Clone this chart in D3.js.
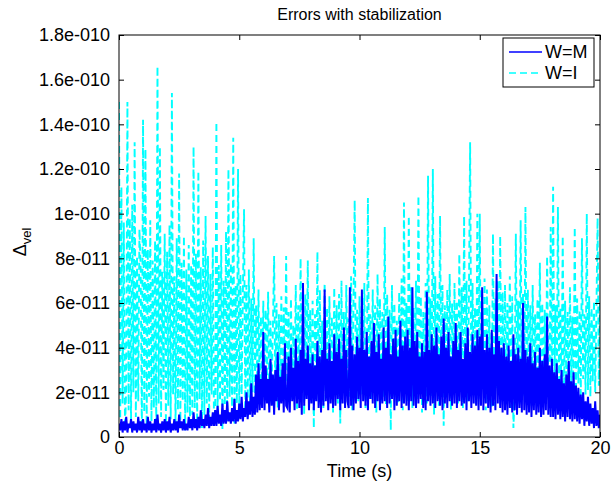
<!DOCTYPE html>
<html>
<head>
<meta charset="utf-8">
<script src="https://cdn.jsdelivr.net/npm/d3@7"></script>
<style>
body { margin: 0; background: #fff; }
svg { display: block; font-family: "Liberation Sans", Arial, Helvetica, sans-serif; }
</style>
</head>
<body>
<div id="content"></div>
<script>
// axis ticks (y values in units of 1e-11)
var xTicks = [0, 5, 10, 15, 20];
var yTicks = [0, 2, 4, 6, 8, 10, 12, 14, 16, 18];
var yTickLabels = ["0", "2e-011", "4e-011", "6e-011", "8e-011", "1e-010", "1.2e-010", "1.4e-010", "1.6e-010", "1.8e-010"];

// samples every 0.05 s (x1e-11)
var tStep = 0.05;
var seriesNames = ["W=M", "W=I"];

var wmVals = [
	0.6,0.3,0.8,0.2,0.7,0.3,0.9,0.2,0.6,0.4,0.8,0.2,0.7,0.3,0.6,0.2,0.9,0.3,0.7,0.2,
	0.8,0.3,0.6,0.2,0.9,0.3,0.7,0.2,0.6,0.3,0.8,0.2,1.0,0.3,0.6,0.2,0.7,0.3,0.8,0.2,
	0.7,0.3,0.9,0.2,0.6,0.3,0.8,0.3,0.7,0.2,1.0,0.4,0.7,0.3,0.8,0.3,0.6,0.3,0.9,0.4,
	0.8,0.3,1.1,0.4,0.8,0.3,0.9,0.4,1.2,0.5,0.8,0.4,1.0,0.5,1.3,0.4,0.9,0.5,1.1,0.5,
	1.2,0.5,1.4,0.6,1.0,0.5,1.5,0.6,1.2,0.6,1.6,0.7,1.1,0.6,1.3,0.7,1.7,0.6,1.2,0.7,
	1.5,0.8,1.8,0.7,1.3,0.9,2.0,0.8,1.6,1.0,2.4,0.9,1.8,1.0,2.8,1.1,3.3,1.2,2.6,1.3,
	4.7,1.2,3.2,1.5,2.6,1.1,3.5,1.4,2.8,1.0,3.0,1.6,3.8,1.2,2.7,1.5,3.3,1.1,4.2,1.4,
	1.3,3.6,1.1,4.0,1.6,3.1,1.2,4.4,1.5,3.4,1.3,3.9,1.0,6.9,1.4,3.5,1.7,4.1,1.2,3.3,
	1.5,3.7,1.2,3.2,1.6,4.3,1.3,3.6,1.1,3.9,1.4,6.6,1.6,3.5,1.2,4.2,1.5,3.4,1.3,4.6,
	1.4,3.8,1.7,4.4,1.2,3.5,1.5,4.9,1.3,3.9,1.6,1.3,6.7,1.4,4.1,1.2,3.7,1.5,4.5,1.7,
	4.0,1.3,6.6,1.6,3.9,1.4,4.7,1.2,3.6,1.7,4.3,1.5,5.1,1.3,3.8,1.6,4.6,1.2,3.5,1.5,
	4.9,1.6,4.0,1.3,5.4,1.5,3.7,1.7,4.4,1.2,4.8,1.4,3.6,1.6,5.2,1.3,4.1,1.5,4.5,1.4,
	4.8,1.2,4.0,1.6,6.7,1.4,4.3,1.3,4.7,1.5,3.6,1.7,4.2,1.3,3.8,1.2,6.5,1.6,3.9,1.4,
	4.6,1.5,4.1,1.3,4.9,1.6,3.7,1.4,4.5,1.2,5.3,1.5,4.0,1.3,4.7,1.6,3.6,1.4,4.3,1.5,
	5.1,1.3,3.9,1.6,4.7,1.4,3.5,1.5,4.2,1.2,4.9,1.6,3.8,1.3,4.6,1.5,4.1,1.4,4.8,1.2,
	4.5,1.4,6.7,1.2,3.9,1.5,4.6,1.3,4.0,1.1,4.8,1.4,3.7,1.2,7.3,1.5,4.3,1.3,4.0,1.1,
	4.2,1.2,3.6,1.0,4.1,1.3,3.4,1.1,4.6,1.2,3.7,1.0,4.0,1.3,3.5,1.1,6.0,1.2,3.9,1.0,
	3.6,1.1,4.2,0.9,3.3,1.2,3.8,1.0,3.1,1.1,4.0,0.9,3.4,1.0,3.7,1.2,5.4,1.0,3.2,0.9,
	3.5,0.9,2.9,0.8,3.3,1.0,2.6,0.8,3.0,0.9,2.4,0.7,2.8,0.9,3.4,0.8,2.5,0.7,2.9,0.8,
	2.3,0.7,2.2,0.6,1.9,0.8,2.0,0.5,1.6,0.7,1.8,0.5,1.5,0.6,1.3,0.4,1.6,0.5,1.2,0.4,
	1.0
];

var wiVals = [
	15.0,0.8,11.2,1.5,9.6,0.4,2.2,15.0,1.2,9.8,0.6,10.4,2.0,13.2,0.9,8.1,1.6,9.3,7.6,0.3,
	14.2,1.1,12.9,0.5,8.4,1.8,9.7,0.7,7.9,1.3,8.8,0.4,16.6,1.5,13.0,0.9,7.4,2.1,9.1,0.6,
	8.3,1.4,9.5,0.8,15.4,1.9,7.2,0.5,8.9,1.2,11.8,0.7,7.8,1.6,9.0,0.3,7.5,1.1,8.6,0.9,
	7.7,1.0,13.0,1.3,8.2,0.6,11.9,1.7,7.6,0.4,8.8,1.0,9.9,1.5,8.1,0.8,7.3,1.9,8.5,0.5,
	1.2,14.1,0.9,7.7,1.6,8.6,0.3,7.0,1.4,9.2,0.7,12.0,1.8,7.8,1.1,13.4,0.6,6.8,1.5,12.0,
	1.1,7.3,1.9,6.4,10.2,0.9,6.8,1.7,7.5,1.3,6.2,2.0,8.9,1.4,5.9,2.3,6.6,1.6,5.4,2.5,
	6.1,1.8,5.7,2.2,6.5,1.5,5.2,2.4,4.9,8.1,1.9,6.0,1.3,5.5,2.0,6.3,1.6,5.8,2.3,8.1,
	1.4,5.6,2.1,6.2,1.7,5.0,2.5,6.8,1.2,5.9,1.9,8.0,2.2,5.3,1.0,6.4,2.6,7.9,1.5,5.7,
	1.8,6.1,0.4,5.5,2.3,8.3,1.6,6.6,2.0,5.2,1.3,6.9,2.4,5.8,1.7,6.3,2.1,5.4,1.1,6.7,
	2.2,5.9,1.5,6.4,0.6,7.0,2.0,5.6,1.4,6.8,2.3,5.3,1.8,7.2,1.2,6.0,10.6,2.1,5.7,1.6,
	6.3,1.9,5.8,2.4,6.9,1.3,2.0,10.7,2.2,5.5,1.7,6.6,2.0,5.9,1.1,7.3,2.5,6.2,1.6,5.6,
	1.8,9.4,1.4,6.4,2.1,5.7,0.3,6.8,1.8,6.0,2.3,5.2,1.5,6.5,2.0,7.1,1.2,10.5,1.9,6.0,
	1.6,9.9,2.2,6.7,1.3,5.8,2.0,7.0,1.7,10.8,2.4,6.3,1.1,5.6,2.1,6.9,1.5,11.7,2.3,6.2,
	1.8,12.0,1.0,7.2,2.2,6.4,1.4,9.9,2.0,6.8,0.5,5.9,1.7,6.6,2.3,7.3,1.2,6.0,1.9,6.9,
	2.4,6.1,1.5,8.2,2.1,6.7,1.3,9.9,2.5,7.0,1.6,6.3,13.2,1.8,6.9,2.2,5.8,1.4,10.0,1.7,
	10.0,1.5,6.4,2.3,7.1,1.2,6.6,2.0,5.9,1.8,1.3,9.1,1.4,6.2,2.2,7.0,1.9,9.0,1.6,6.5,
	2.1,6.8,1.7,6.0,2.4,7.2,1.3,6.3,0.4,1.9,9.1,2.2,6.1,1.5,9.7,2.0,6.4,1.8,10.3,1.6,
	6.6,2.3,5.9,1.4,6.8,2.0,5.5,1.7,6.2,2.5,7.8,1.3,6.0,2.1,5.7,1.8,8.1,2.4,1.5,9.4,
	1.9,11.2,2.2,5.9,1.6,10.3,2.3,5.8,1.5,9.0,1.7,6.1,2.5,5.6,1.9,6.7,2.2,5.4,1.8,9.4,
	2.0,6.2,2.4,5.7,1.7,8.9,2.6,5.5,1.9,10.0,2.1,6.3,1.8,5.8,2.5,6.1,2.0,5.6,9.8,2.3,
	6.0
];

function main() {
	var svgWidth = 613;
	var svgHeight = 482;
	var margin = { top: 35, right: 13, bottom: 45, left: 119 };
	var width = svgWidth - margin.left - margin.right;
	var height = svgHeight - margin.top - margin.bottom;

	var svg = d3.select("#content")
		.append("svg")
		.attr("width", svgWidth)
		.attr("height", svgHeight);

	var x = d3.scaleLinear().domain([0, 20]).range([0, width]);
	var y = d3.scaleLinear().domain([0, 18]).range([height, 0]);

	var g = svg.append("g")
		.attr("transform", "translate(" + margin.left + "," + margin.top + ")");

	g.append("clipPath").attr("id", "plotClip")
		.append("rect").attr("width", width).attr("height", height);

	// data lines, dashed cyan under solid blue
	var line = d3.line()
		.x(function (d, i) { return x(i * tStep); })
		.y(function (d) { return y(d); });

	g.append("path")
		.datum(wiVals)
		.attr("clip-path", "url(#plotClip)")
		.attr("fill", "none")
		.attr("stroke", "#00ffff")
		.attr("stroke-width", 1.9)
		.attr("stroke-dasharray", "7,4")
		.attr("d", line);

	g.append("path")
		.datum(wmVals)
		.attr("clip-path", "url(#plotClip)")
		.attr("fill", "none")
		.attr("stroke", "#0000ff")
		.attr("stroke-width", 2)
		.attr("d", line);

	// axes with inward ticks on all four sides
	var xAxis = g.append("g")
		.attr("transform", "translate(0," + height + ")")
		.call(d3.axisBottom(x).tickValues(xTicks).tickSizeInner(-5).tickSizeOuter(0).tickPadding(3));
	var yAxis = g.append("g")
		.call(d3.axisLeft(y).tickValues(yTicks)
			.tickFormat(function (d, i) { return yTickLabels[i]; })
			.tickSizeInner(-5).tickSizeOuter(0).tickPadding(9));
	g.append("g")
		.call(d3.axisTop(x).tickValues(xTicks).tickSizeInner(-5).tickSizeOuter(0).tickFormat(""));
	g.append("g")
		.attr("transform", "translate(" + width + ",0)")
		.call(d3.axisRight(y).tickValues(yTicks).tickSizeInner(-5).tickSizeOuter(0).tickFormat(""));

	g.selectAll(".domain").remove();
	g.selectAll(".tick line").attr("stroke", "#000");
	[xAxis, yAxis].forEach(function (a) {
		a.selectAll("text")
			.attr("fill", "#000")
			.style("font-size", "18px")
			.style("font-family", "'Liberation Sans', Arial, sans-serif");
	});
	xAxis.selectAll("text").attr("dy", "0.8em");

	g.append("rect")
		.attr("width", width)
		.attr("height", height)
		.attr("fill", "none")
		.attr("stroke", "#000")
		.attr("stroke-width", 1);

	// title and axis labels
	svg.append("text")
		.attr("x", margin.left + width / 2)
		.attr("y", 20)
		.attr("text-anchor", "middle")
		.style("font-size", "16px")
		.text("Errors with stabilization");

	svg.append("text")
		.attr("x", margin.left + width / 2)
		.attr("y", 477)
		.attr("text-anchor", "middle")
		.style("font-size", "18px")
		.text("Time (s)");

	var yLabel = svg.append("text")
		.attr("transform", "translate(26," + (margin.top + height / 2 + 6) + ") rotate(-90)")
		.attr("text-anchor", "middle")
		.style("font-size", "18px");
	yLabel.append("tspan").text("\u0394");
	yLabel.append("tspan").attr("dy", 5).style("font-size", "13px").text("vel");

	// legend
	var legend = svg.append("g").attr("transform", "translate(503,38)");
	legend.append("rect")
		.attr("width", 91).attr("height", 49)
		.attr("fill", "#fff").attr("stroke", "#000");
	var legendStyle = [
		{ color: "#0000ff", dash: null },
		{ color: "#00ffff", dash: "7,4" }
	];
	seriesNames.forEach(function (name, i) {
		var ly = 14 + i * 21;
		legend.append("line")
			.attr("x1", 6).attr("x2", 39)
			.attr("y1", ly).attr("y2", ly)
			.attr("stroke", legendStyle[i].color)
			.attr("stroke-width", 1.6)
			.attr("stroke-dasharray", legendStyle[i].dash);
		legend.append("text")
			.attr("x", 42).attr("y", ly)
			.attr("dy", "0.35em")
			.style("font-size", "18px")
			.text(name);
	});
}

main();
</script>
</body>
</html>
